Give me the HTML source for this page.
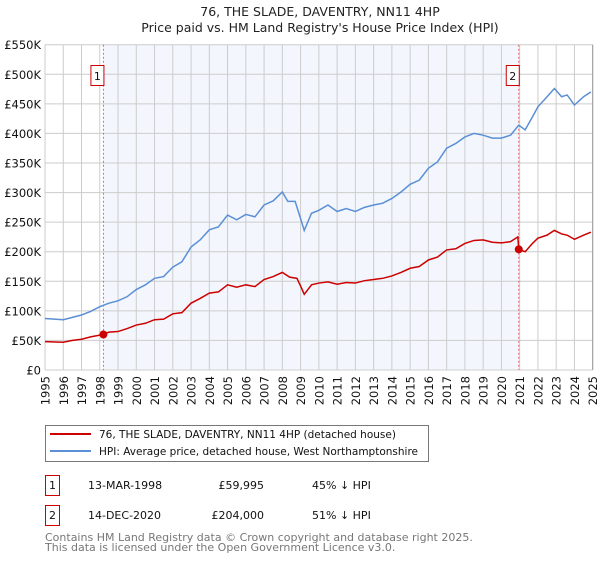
<!DOCTYPE html>
<html><head><meta charset="utf-8"><style>
body{margin:0;background:#fff;font-family:"DejaVu Sans","Liberation Sans",sans-serif;}
svg text{font-family:"DejaVu Sans","Liberation Sans",sans-serif;}
</style></head><body>
<svg id="chart" width="600" height="560" xmlns="http://www.w3.org/2000/svg">
<text x="320" y="16" font-size="12.5" text-anchor="middle" fill="#222">76, THE SLADE, DAVENTRY, NN11 4HP</text>
<text x="320" y="32" font-size="12.5" text-anchor="middle" fill="#222">Price paid vs. HM Land Registry's House Price Index (HPI)</text>
<g id="plot"></g>
<g>
<rect x="45.5" y="425.5" width="383" height="36" fill="#fff" stroke="#777"/>
<line x1="50" y1="434" x2="91" y2="434" stroke="#cc0000" stroke-width="2"/>
<text x="99" y="438" font-size="10.5" fill="#111">76, THE SLADE, DAVENTRY, NN11 4HP (detached house)</text>
<line x1="50" y1="451" x2="91" y2="451" stroke="#5b8fd6" stroke-width="2"/>
<text x="99" y="455" font-size="10.5" fill="#111">HPI: Average price, detached house, West Northamptonshire</text>
</g>
<g font-size="11" fill="#111">
<rect x="45.5" y="475.5" width="14" height="20" fill="#fff" stroke="#cc0000"/>
<text x="52.5" y="489" text-anchor="middle">1</text>
<text x="88" y="489">13-MAR-1998</text>
<text x="264" y="489" text-anchor="end">£59,995</text>
<text x="312" y="489">45% ↓ HPI</text>
<rect x="45.5" y="505.5" width="14" height="20" fill="#fff" stroke="#cc0000"/>
<text x="52.5" y="519" text-anchor="middle">2</text>
<text x="88" y="519">14-DEC-2020</text>
<text x="264" y="519" text-anchor="end">£204,000</text>
<text x="312" y="519">51% ↓ HPI</text>
</g>
<g font-size="11" fill="#777">
<text x="45" y="541">Contains HM Land Registry data © Crown copyright and database right 2025.</text>
<text x="45" y="551">This data is licensed under the Open Government Licence v3.0.</text>
</g>
</svg>
<script>
const hpiYears=[1995,1995.5,1996,1996.5,1997,1997.5,1998,1998.5,1999,1999.5,2000,2000.5,2001,2001.5,2002,2002.5,2003,2003.5,2004,2004.5,2005,2005.5,2006,2006.5,2007,2007.5,2008,2008.3,2008.7,2009,2009.2,2009.6,2010,2010.5,2011,2011.5,2012,2012.5,2013,2013.5,2014,2014.5,2015,2015.5,2016,2016.5,2017,2017.5,2018,2018.5,2019,2019.5,2020,2020.5,2020.95,2021.3,2021.7,2022,2022.5,2022.9,2023.3,2023.6,2024,2024.5,2024.9];
const hpiValues=[87,86,85,89,93,99,107,113,117,124,136,144,155,158,174,183,208,220,237,242,262,254,263,259,279,286,301,285,285,256,236,265,270,279,268,273,268,275,279,282,290,301,314,321,341,352,375,383,394,400,397,392,392,397,414,406,428,445,462,476,462,465,448,462,470];
const priceYears=[1995,1996,1996.5,1997,1997.5,1998,1998.2,1998.5,1999,1999.5,2000,2000.5,2001,2001.5,2002,2002.5,2003,2003.5,2004,2004.5,2005,2005.5,2006,2006.5,2007,2007.5,2008,2008.4,2008.8,2009,2009.2,2009.6,2010,2010.5,2011,2011.5,2012,2012.5,2013,2013.5,2014,2014.5,2015,2015.5,2016,2016.5,2017,2017.5,2018,2018.5,2019,2019.5,2020,2020.5,2020.9,2020.95,2021.3,2021.7,2022,2022.5,2022.9,2023.3,2023.6,2024,2024.5,2024.9];
const priceValues=[48,47,50,52,56,59,60,64,65,70,76,79,85,86,95,97,113,121,130,132,144,140,144,141,153,158,165,157,155,142,128,144,147,149,145,148,147,151,153,155,159,165,172,175,186,191,203,205,214,219,220,216,215,217,225,204,200,214,223,228,236,230,228,221,228,233];
const saleYears=[1998.2,2020.95];
const saleValues=[59.995,204];
const saleLabels=["1","2"];
const yTicks=[0,50,100,150,200,250,300,350,400,450,500,550];
const yTickLabels=["£0","£50K","£100K","£150K","£200K","£250K","£300K","£350K","£400K","£450K","£500K","£550K"];
const xTicks=[1995,1996,1997,1998,1999,2000,2001,2002,2003,2004,2005,2006,2007,2008,2009,2010,2011,2012,2013,2014,2015,2016,2017,2018,2019,2020,2021,2022,2023,2024,2025];

const X0=45,X1=592.7,Y0=370,Y1=44.7;
const xs=y=>X0+(y-1995)/30*(X1-X0);
const ys=v=>Y0-v/550*(Y0-Y1);
const NS="http://www.w3.org/2000/svg";
const plot=document.getElementById('plot');
function mk(tag,attrs){const e=document.createElementNS(NS,tag);for(const k in attrs)e.setAttribute(k,attrs[k]);plot.appendChild(e);return e;}
const shade=mk('rect',{x:xs(saleYears[0]),y:Y1,width:xs(saleYears[1])-xs(saleYears[0]),height:Y0-Y1,fill:'#eef3fc',opacity:0.7});


xTicks.forEach(t=>{
 const l=mk('line',{x1:xs(t),x2:xs(t),y1:Y1,y2:Y0,stroke:'#cccccc','stroke-width':1});
 
 
 const tx=mk('text',{transform:`translate(${xs(t)+4.5},${Y0+6}) rotate(-90)`,'font-size':11.5,'text-anchor':'end',fill:'#111'});
 tx.textContent=t;
 
 
});
yTicks.forEach((t,i)=>{
 const l=mk('line',{x1:X0,x2:X1,y1:ys(t),y2:ys(t),stroke:'#cccccc','stroke-width':1});
 
 
 const tx=mk('text',{x:X0-4,y:ys(t)+4.5,'font-size':11.5,'text-anchor':'end',fill:'#111'});
 tx.textContent=yTickLabels[i];
 
 
});
const rb=mk('line',{x1:X1,x2:X1,y1:Y1,y2:Y0,stroke:'#999','stroke-width':1});


saleYears.forEach((y,i)=>{
 const l=mk('line',{x1:xs(y),x2:xs(y),y1:Y1,y2:Y0,stroke:'#e06666','stroke-width':1,'stroke-dasharray':'2,2'});
 
 
 const b=mk('rect',{x:xs(y)-12.5,y:65.5,width:13,height:20,fill:'#fff',stroke:'#cc0000'});
 
 
 const t=mk('text',{x:xs(y)-6,y:80,'font-size':11,'text-anchor':'middle',fill:'#111'});
 t.textContent=saleLabels[i];
 
 
});
const hp=mk('polyline',{points:hpiYears.map((y,i)=>xs(y)+','+ys(hpiValues[i])).join(' '),fill:'none',stroke:'#5b8fd6','stroke-width':1.5});


const pp=mk('polyline',{points:priceYears.map((y,i)=>xs(y)+','+ys(priceValues[i])).join(' '),fill:'none',stroke:'#cc0000','stroke-width':1.5});


saleYears.forEach((y,i)=>{
 const c=mk('circle',{cx:xs(y),cy:ys(saleValues[i]),r:4,fill:'#cc0000'});
 
 
});
</script>
</body></html>
